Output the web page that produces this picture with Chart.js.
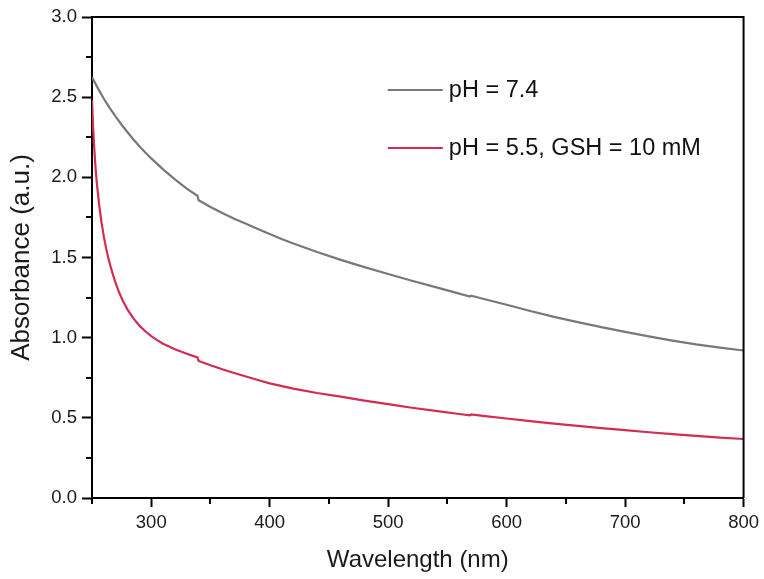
<!DOCTYPE html>
<html>
<head>
<meta charset="utf-8">
<script src="https://cdn.jsdelivr.net/npm/chart.js@4.4.1/dist/chart.umd.min.js"></script>
<style>
  html, body { margin: 0; padding: 0; background: #fff; }
  #wrap { width: 764px; height: 579px; }
</style>
</head>
<body>
<div id="wrap"><canvas id="c" width="764" height="579"></canvas></div>
<script>
// ---- Data ----
const seriesLabels = ['pH = 7.4', 'pH = 5.5, GSH = 10 mM'];
const seriesColors = ['#787878', '#d22c52'];

const grayWavelength = [250, 255, 260, 265, 270, 275, 280, 285, 290, 295, 300, 310, 320, 330, 339, 340, 350, 360, 370, 380, 390, 400, 410, 420, 440, 460, 480, 500, 520, 540, 560, 569, 570, 580, 600, 620, 640, 660, 680, 700, 720, 740, 760, 780, 800];
const grayAbsorbance = [2.625, 2.555, 2.49, 2.432, 2.378, 2.328, 2.281, 2.236, 2.194, 2.155, 2.118, 2.05, 1.987, 1.93, 1.885, 1.857, 1.815, 1.777, 1.742, 1.71, 1.678, 1.647, 1.616, 1.587, 1.534, 1.485, 1.44, 1.397, 1.355, 1.315, 1.275, 1.257, 1.262, 1.243, 1.205, 1.166, 1.13, 1.097, 1.066, 1.036, 1.008, 0.982, 0.958, 0.938, 0.92];

const redWavelength = [250, 251, 252, 253, 254, 256, 258, 260, 262, 264, 266, 268, 270, 273, 276, 280, 285, 290, 295, 300, 305, 310, 320, 330, 339, 340, 350, 360, 370, 380, 390, 400, 420, 440, 460, 480, 500, 520, 540, 560, 569, 570, 580, 600, 620, 640, 660, 680, 700, 720, 740, 760, 780, 800];
const redAbsorbance = [2.48, 2.30, 2.17, 2.06, 1.97, 1.83, 1.72, 1.63, 1.555, 1.49, 1.435, 1.385, 1.34, 1.28, 1.23, 1.175, 1.12, 1.075, 1.04, 1.01, 0.985, 0.962, 0.928, 0.90, 0.877, 0.855, 0.828, 0.803, 0.78, 0.758, 0.736, 0.715, 0.682, 0.655, 0.632, 0.607, 0.585, 0.563, 0.543, 0.524, 0.516, 0.521, 0.512, 0.496, 0.48, 0.464, 0.45, 0.436, 0.423, 0.41, 0.398, 0.387, 0.377, 0.368];

const xMajorTicks = [300, 400, 500, 600, 700, 800];
const xMinorTicks = [250, 350, 450, 550, 650, 750];
const yMajorTicks = [0.0, 0.5, 1.0, 1.5, 2.0, 2.5, 3.0];
const yMinorTicks = [0.25, 0.75, 1.25, 1.75, 2.25, 2.75];

const xTitle = 'Wavelength (nm)';
const yTitle = 'Absorbance (a.u.)';

const FONT = "'Liberation Sans', Arial, Helvetica, sans-serif";

function toPoints(xs, ys) { return xs.map((x, i) => ({ x: x, y: ys[i] })); }

// Frame (top/right), minor ticks and inside legend
const decorPlugin = {
  id: 'decor',
  afterDraw(chart) {
    const ctx = chart.ctx;
    const a = chart.chartArea;
    const xs = chart.scales.x, ys = chart.scales.y;
    ctx.save();
    ctx.strokeStyle = '#000';
    ctx.lineWidth = 2;
    ctx.beginPath();
    ctx.moveTo(a.left, a.top);
    ctx.lineTo(a.right, a.top);
    ctx.lineTo(a.right, a.bottom);
    ctx.stroke();
    ctx.beginPath();
    xMinorTicks.forEach(v => {
      const px = Math.round(xs.getPixelForValue(v));
      ctx.moveTo(px, a.bottom);
      ctx.lineTo(px, a.bottom + 6);
    });
    yMinorTicks.forEach(v => {
      const py = Math.round(ys.getPixelForValue(v));
      ctx.moveTo(a.left, py);
      ctx.lineTo(a.left - 6, py);
    });
    ctx.stroke();
    // legend inside plot
    const lx0 = a.left + 0.454 * (a.right - a.left);
    const lx1 = lx0 + 55;
    const rows = [ys.getPixelForValue(2.545), ys.getPixelForValue(2.18)];
    ctx.font = '23.5px ' + FONT;
    ctx.textBaseline = 'middle';
    ctx.textAlign = 'left';
    chart.data.datasets.forEach((ds, i) => {
      const y = Math.round(rows[i]);
      ctx.strokeStyle = ds.borderColor;
      ctx.lineWidth = 2;
      ctx.beginPath();
      ctx.moveTo(lx0, y);
      ctx.lineTo(lx1, y);
      ctx.stroke();
      ctx.fillStyle = '#111';
      ctx.fillText(ds.label, lx1 + 6, y + 1);
    });
    ctx.restore();
  }
};

new Chart(document.getElementById('c'), {
  type: 'scatter',
  data: {
    datasets: [
      {
        label: seriesLabels[0],
        data: toPoints(grayWavelength, grayAbsorbance),
        showLine: true,
        borderColor: seriesColors[0],
        backgroundColor: seriesColors[0],
        borderWidth: 2.2,
        pointRadius: 0,
        tension: 0
      },
      {
        label: seriesLabels[1],
        data: toPoints(redWavelength, redAbsorbance),
        showLine: true,
        borderColor: seriesColors[1],
        backgroundColor: seriesColors[1],
        borderWidth: 2.2,
        pointRadius: 0,
        tension: 0
      }
    ]
  },
  options: {
    responsive: false,
    animation: false,
    layout: { padding: { left: 0, right: 16, top: 17, bottom: 0 } },
    plugins: {
      legend: { display: false },
      tooltip: { enabled: false }
    },
    scales: {
      x: {
        type: 'linear',
        min: 250,
        max: 800,
        afterBuildTicks(scale) { scale.ticks = xMajorTicks.map(v => ({ value: v })); },
        afterFit(scale) { scale.height = 81; },
        border: { display: true, color: '#000', width: 2 },
        grid: { display: true, drawOnChartArea: false, drawTicks: true, tickLength: 9, tickColor: '#000', tickWidth: 2, color: '#000' },
        ticks: { color: '#1a1a1a', font: { family: FONT, size: 18.5 }, padding: 5, maxRotation: 0, autoSkip: false,
                 callback: v => String(v) },
        title: { display: true, text: xTitle, color: '#1a1a1a', font: { family: FONT, size: 24 }, padding: { top: 2, bottom: 4 } }
      },
      y: {
        type: 'linear',
        min: 0,
        max: 3,
        afterBuildTicks(scale) { scale.ticks = yMajorTicks.map(v => ({ value: v })); },
        afterFit(scale) { scale.width = 92; },
        border: { display: true, color: '#000', width: 2 },
        grid: { display: true, drawOnChartArea: false, drawTicks: true, tickLength: 10, tickColor: '#000', tickWidth: 2, color: '#000' },
        ticks: { color: '#1a1a1a', font: { family: FONT, size: 18.5 }, padding: 5, autoSkip: false,
                 callback: v => Number(v).toFixed(1) },
        title: { display: true, text: yTitle, color: '#1a1a1a', font: { family: FONT, size: 26 }, padding: { top: 6, bottom: 2 } }
      }
    }
  },
  plugins: [decorPlugin]
});
</script>
</body>
</html>
